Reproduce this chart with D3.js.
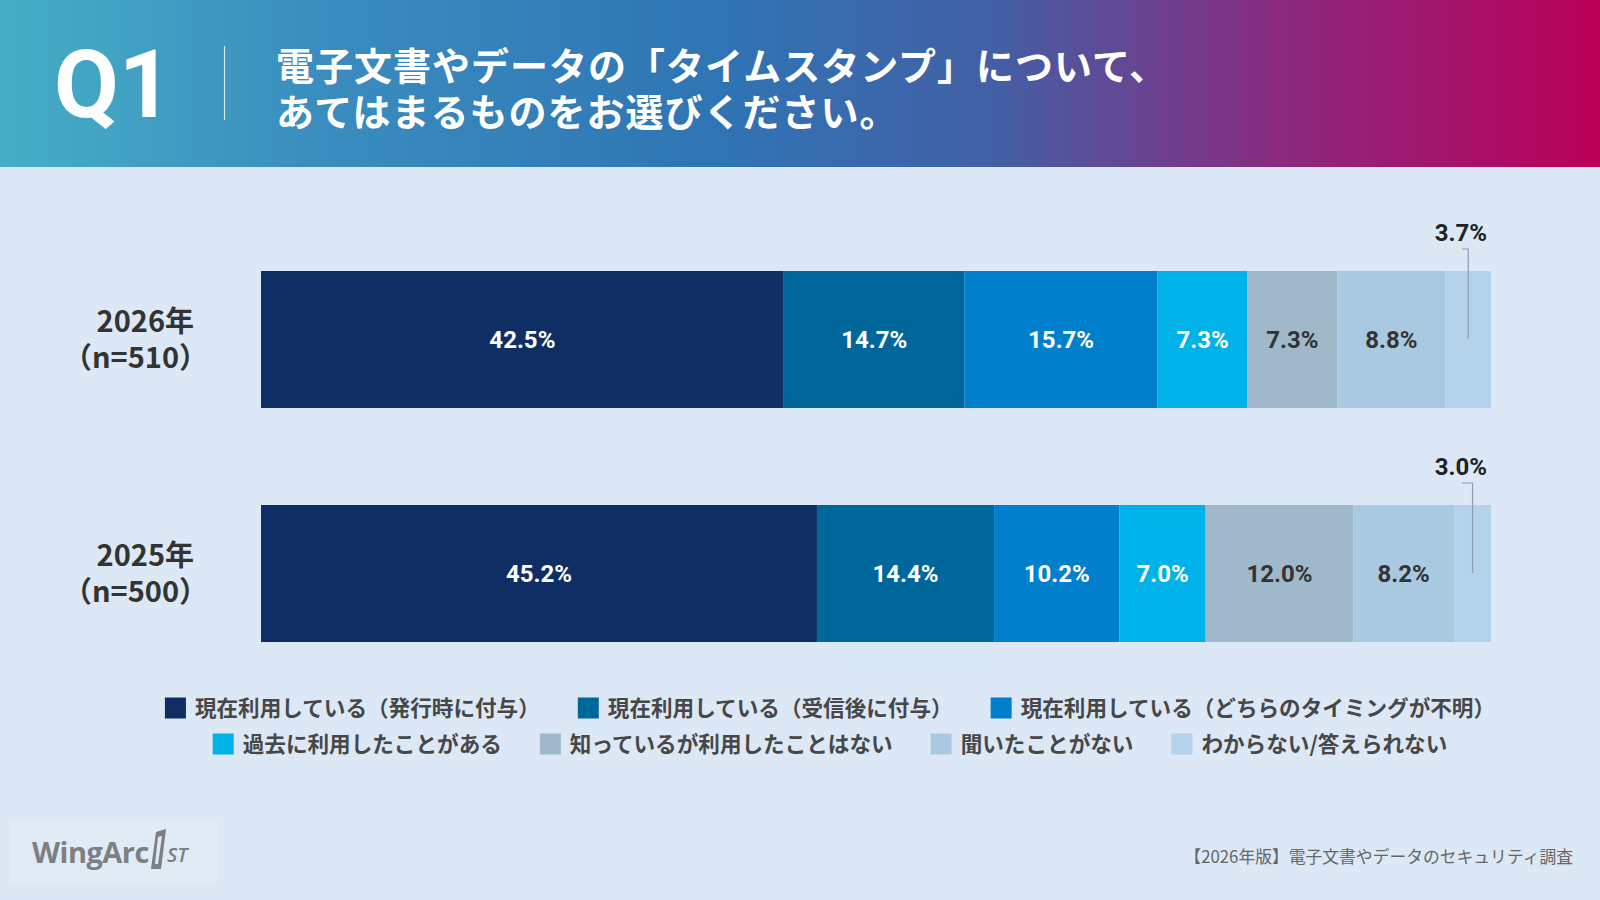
<!DOCTYPE html>
<html><head><meta charset="utf-8">
<script src="https://cdn.jsdelivr.net/npm/d3@7"></script>
<style>
html,body{margin:0;padding:0;background:#dce8f5;}
svg{display:block;}
</style></head>
<body><svg id="chart" width="1600" height="900"></svg>
<script>
const years = ["2026年", "2025年"];
const sampleSizes = ["（n=510）", "（n=500）"];
const categories = [
  "現在利用している（発行時に付与）",
  "現在利用している（受信後に付与）",
  "現在利用している（どちらのタイミングが不明）",
  "過去に利用したことがある",
  "知っているが利用したことはない",
  "聞いたことがない",
  "わからない/答えられない"
];
const values2026 = [42.5, 14.7, 15.7, 7.3, 7.3, 8.8, 3.7];
const values2025 = [45.2, 14.4, 10.2, 7.0, 12.0, 8.2, 3.0];
const colors = ["#0f2f64", "#00679b", "#0080cc", "#00b2e8", "#9fb9cb", "#a9c9e1", "#b4d2ea"];
const labelColors = ["#ffffff", "#ffffff", "#ffffff", "#ffffff", "#333333", "#333333", "#333333"];
const legendRows = [[0, 1, 2], [3, 4, 5, 6]];
const titleLines = ["電子文書やデータの「タイムスタンプ」について、", "あてはまるものをお選びください。"];
const footer = "【2026年版】電子文書やデータのセキュリティ調査";

const svg = d3.select("#chart");
const JP = "'Noto Sans CJK JP','Noto Sans',sans-serif";
const NUM = "Roboto,'Noto Sans CJK JP',sans-serif";

svg.append("rect").attr("width", 1600).attr("height", 900).attr("fill", "#dce8f5");

// header gradient
const defs = svg.append("defs");
const grad = defs.append("linearGradient").attr("id", "hdr").attr("x1", "0").attr("x2", "1").attr("y1", "0").attr("y2", "0");
[[0, "#46aec6"], [0.2, "#3a8dbe"], [0.45, "#2f74b4"], [0.62, "#4260a5"], [0.8, "#8a2a7f"], [1, "#bb0058"]]
  .forEach(([o, c]) => grad.append("stop").attr("offset", o).attr("stop-color", c));
svg.append("rect").attr("x", 0).attr("y", 0).attr("width", 1600).attr("height", 167).attr("fill", "url(#hdr)");

svg.append("text").attr("x", 54).attr("y", 117).attr("fill", "#fff")
  .attr("font-family", NUM).attr("font-weight", 700).attr("font-size", 94).text("Q1");
svg.append("line").attr("x1", 224.5).attr("x2", 224.5).attr("y1", 46).attr("y2", 120)
  .attr("stroke", "#ffffff").attr("stroke-opacity", 0.8).attr("stroke-width", 1.2);
const title = svg.append("text").attr("y", 80)
  .attr("fill", "#fff").attr("font-family", JP).attr("font-weight", 700)
  .attr("font-size", 38).attr("letter-spacing", 1);
title.selectAll("tspan").data(titleLines).join("tspan")
  .attr("x", 276).attr("dy", (d, i) => i === 0 ? 0 : 46).text(d => d);

// scales
const x = d3.scaleLinear().domain([0, 100]).range([261, 1491]);
const y = d3.scaleBand().domain(years).range([271, 642]).paddingInner(0.4145).paddingOuter(0);

const rows = [values2026, values2025].map((vals, ri) => {
  let acc = 0;
  return vals.map((v, i) => { const s = acc; acc += v; return {year: years[ri], i, v, s, e: acc}; });
});

rows.forEach((segs, ri) => {
  const g = svg.append("g");
  const by = y(years[ri]), bh = y.bandwidth();
  g.selectAll("rect").data(segs).join("rect")
    .attr("x", d => x(d.s)).attr("y", by)
    .attr("width", d => x(d.e) - x(d.s)).attr("height", bh)
    .attr("fill", d => colors[d.i]);
  g.selectAll("text").data(segs.slice(0, 6)).join("text")
    .attr("x", d => (x(d.s) + x(d.e)) / 2).attr("y", by + bh / 2)
    .attr("dy", "0.36em").attr("text-anchor", "middle")
    .attr("fill", d => labelColors[d.i]).attr("font-family", NUM)
    .attr("font-weight", 700).attr("font-size", 24)
    .text(d => d.v.toFixed(1) + "%");
  const last = segs[6];
  const cx = (x(last.s) + x(last.e)) / 2;
  const ly = by - 22;
  g.append("path")
    .attr("d", `M${x(100) - 29},${ly} H${cx} V${by + 68}`)
    .attr("fill", "none").attr("stroke", "#8b9cb2").attr("stroke-width", 1.2);
  g.append("text").attr("x", x(100) - 4).attr("y", ly - 8)
    .attr("text-anchor", "end").attr("fill", "#222").attr("font-family", NUM)
    .attr("font-weight", 700).attr("font-size", 24).text(last.v.toFixed(1) + "%");
  const yl = g.append("text").attr("y", by + bh / 2 - 18).attr("dy", "0.36em")
    .attr("text-anchor", "end").attr("fill", "#333").attr("font-family", JP)
    .attr("font-weight", 700).attr("font-size", 29);
  yl.append("tspan").attr("x", 194).text(years[ri]);
  yl.append("tspan").attr("x", 208).attr("dy", 36).text(sampleSizes[ri]);
});

// legend
const legendY = [708, 744];
const gap = 38, sw = 21, tOff = 30;
legendRows.forEach((row, r) => {
  const lg = svg.append("g");
  const items = row.map(ci => {
    const t = lg.append("text").attr("font-family", JP).attr("font-weight", 700)
      .attr("font-size", 21.6).attr("fill", "#474747").attr("dy", "0.36em").text(categories[ci]);
    return {ci, t, w: t.node().getComputedTextLength()};
  });
  const total = d3.sum(items, d => tOff + d.w) + gap * (items.length - 1);
  let cur = 830 - total / 2;
  items.forEach(d => {
    lg.append("rect").attr("x", cur).attr("y", legendY[r] - sw / 2).attr("width", sw).attr("height", sw).attr("fill", colors[d.ci]);
    d.t.attr("x", cur + tOff).attr("y", legendY[r]);
    cur += tOff + d.w + gap;
  });
});

// logo
const logo = svg.append("g");
logo.append("rect").attr("x", 10).attr("y", 820).attr("width", 208).attr("height", 62).attr("fill", "#e1ebf6");
logo.append("text").attr("x", 32).attr("y", 863).attr("fill", "#7d7f82")
  .attr("font-family", "'Open Sans',sans-serif").attr("font-weight", 700).attr("font-size", 29)
  .attr("letter-spacing", -0.5).text("WingArc");
logo.append("path").attr("d", "M156,832 L166,829 L161,869 L151,869 Z").attr("fill", "#7d7f82");
logo.append("path").attr("d", "M158,837 L162,836 L158,864 L155,864 Z").attr("fill", "#e1ebf6");
logo.append("text").attr("x", 167).attr("y", 862).attr("fill", "#7d7f82")
  .attr("font-family", "'Open Sans',sans-serif").attr("font-weight", 600).attr("font-style", "italic")
  .attr("font-size", 20).text("ST");

svg.append("text").attr("x", 1573).attr("y", 863).attr("text-anchor", "end")
  .attr("fill", "#666").attr("font-family", JP).attr("font-size", 16.8).text(footer);
</script></body></html>
